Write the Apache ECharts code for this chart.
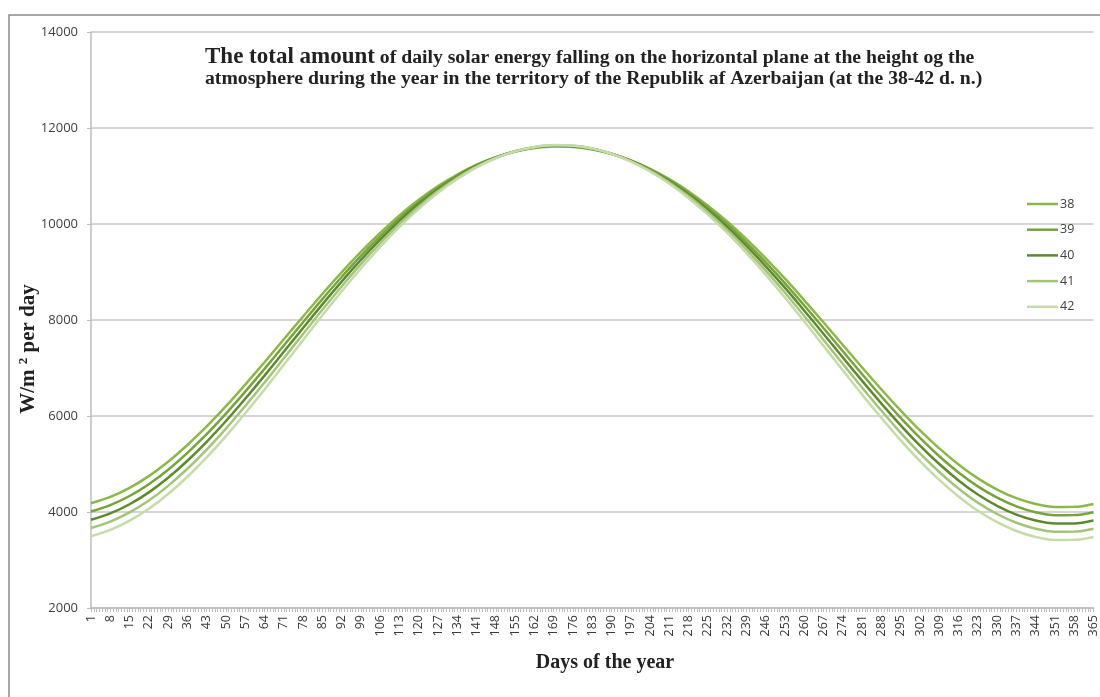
<!DOCTYPE html>
<html>
<head>
<meta charset="utf-8">
<script src="https://cdn.jsdelivr.net/npm/echarts@6/dist/echarts.min.js"></script>
<style>
  html, body { margin: 0; padding: 0; background: #fff; }
  #main { width: 1100px; height: 697px; }
</style>
</head>
<body>
<div id="main"></div>
<script>
// days shown on the axis (every 7th day)
var sampleDays = [1, 8, 15, 22, 29, 36, 43, 50, 57, 64, 71, 78, 85, 92, 99, 106, 113, 120, 127, 134,
  141, 148, 155, 162, 169, 176, 183, 190, 197, 204, 211, 218, 225, 232, 239, 246, 253, 260, 267, 274,
  281, 288, 295, 302, 309, 316, 323, 330, 337, 344, 351, 358, 365];

// values at those days, W/m2 per day
var lat38 = [4183, 4314, 4503, 4748, 5047, 5396, 5782, 6204, 6655, 7120, 7598, 8074, 8542, 8992, 9418, 9813, 10179, 10503, 10789, 11031,
  11235, 11391, 11508, 11582, 11614, 11604, 11552, 11459, 11325, 11151, 10934, 10679, 10383, 10053, 9683, 9284, 8860, 8410, 7948, 7478,
  7010, 6552, 6114, 5701, 5325, 4990, 4701, 4468, 4288, 4167, 4106, 4107, 4168];
var lat39 = [4011, 4143, 4333, 4579, 4880, 5232, 5622, 6050, 6507, 6981, 7468, 7954, 8434, 8896, 9335, 9744, 10122, 10459, 10757, 11010,
  11224, 11389, 11512, 11590, 11624, 11614, 11560, 11462, 11322, 11140, 10913, 10647, 10339, 9996, 9613, 9201, 8764, 8302, 7829, 7348,
  6871, 6406, 5960, 5542, 5162, 4824, 4533, 4298, 4117, 3995, 3934, 3935, 3996];
var lat40 = [3839, 3971, 4162, 4409, 4713, 5067, 5462, 5895, 6359, 6841, 7337, 7834, 8325, 8800, 9252, 9674, 10065, 10415, 10725, 10989,
  11213, 11386, 11515, 11597, 11634, 11623, 11567, 11465, 11318, 11128, 10891, 10614, 10294, 9938, 9543, 9118, 8668, 8194, 7709, 7218,
  6732, 6259, 5806, 5383, 4999, 4658, 4364, 4128, 3946, 3823, 3762, 3763, 3824];
var lat41 = [3668, 3800, 3991, 4239, 4545, 4901, 5300, 5738, 6208, 6697, 7202, 7709, 8212, 8698, 9163, 9599, 10003, 10366, 10688, 10963,
  11197, 11378, 11514, 11601, 11639, 11628, 11570, 11464, 11310, 11111, 10865, 10576, 10245, 9876, 9468, 9030, 8567, 8081, 7585, 7084,
  6589, 6109, 5650, 5222, 4834, 4491, 4195, 3958, 3776, 3652, 3591, 3592, 3653];
var lat42 = [3496, 3628, 3820, 4068, 4376, 4735, 5137, 5580, 6057, 6553, 7066, 7584, 8098, 8596, 9074, 9523, 9940, 10316, 10650, 10937,
  11181, 11370, 11513, 11604, 11644, 11633, 11573, 11462, 11301, 11094, 10838, 10538, 10195, 9813, 9392, 8941, 8466, 7968, 7461, 6950,
  6446, 5958, 5493, 5061, 4669, 4323, 4025, 3787, 3605, 3481, 3419, 3420, 3481];

var seriesNames = ['38', '39', '40', '41', '42'];
var seriesValues = [lat38, lat39, lat40, lat41, lat42];
var seriesColors = ['#8cb84a', '#77a33c', '#5e8a2e', '#a3c57a', '#c6dbaa'];

// every day of the year is a category
var days = [];
for (var d = 1; d <= 365; d++) days.push(String(d));

// plain line legend marker (thin bar centred in a 31x14 box)
var lineIcon = 'path://M0,0 M0,5.75 L31,5.75 L31,8.25 L0,8.25 Z M31,14';

var myChart = echarts.init(document.getElementById('main'));

var series = seriesNames.map(function (name, k) {
  return {
    name: name,
    type: 'line',
    smooth: 0.3,
    symbol: 'none',
    lineStyle: { width: 2.5, color: seriesColors[k] },
    itemStyle: { color: seriesColors[k] },
    data: sampleDays.map(function (day, i) { return [day - 1, seriesValues[k][i]]; })
  };
});

var option = {
  animation: false,
  backgroundColor: '#fff',
  title: {
    left: 205,
    top: 47,
    padding: 0,
    text: '{a|The total amount}{b| of daily solar energy falling on the horizontal plane at the height og the}\n' +
          '{b|atmosphere during the year in the territory of the Republik af Azerbaijan (at the 38-42 d. n.)}',
    textStyle: {
      rich: {
        a: { fontFamily: 'Liberation Serif', fontWeight: 'bold', fontSize: 23, color: '#222', lineHeight: 21 },
        b: { fontFamily: 'Liberation Serif', fontWeight: 'bold', fontSize: 19.7, color: '#222', lineHeight: 21 }
      }
    }
  },
  legend: {
    orient: 'vertical',
    left: 1027,
    top: 197,
    padding: 0,
    itemWidth: 31,
    itemHeight: 14,
    itemGap: 11.7,
    icon: lineIcon,
    data: seriesNames,
    textStyle: { fontFamily: 'Open Sans', fontSize: 12.5, color: '#404040', padding: [0, 0, 0, -3] }
  },
  grid: { left: 91, right: 3, top: 32, bottom: 89 },
  xAxis: {
    type: 'category',
    boundaryGap: false,
    data: days,
    axisLine: { lineStyle: { color: '#bdbdbd', width: 1.5 } },
    axisTick: { interval: 0, length: 4, lineStyle: { color: '#bdbdbd' } },
    axisLabel: {
      interval: 6,
      rotate: 90,
      margin: 7,
      fontFamily: 'Open Sans',
      fontSize: 12.5,
      color: '#3a3a3a'
    },
    splitLine: { show: false }
  },
  yAxis: {
    type: 'value',
    min: 2000,
    max: 14000,
    interval: 2000,
    axisLine: { show: true, lineStyle: { color: '#bdbdbd', width: 1.5 } },
    axisTick: { show: true, length: 4, lineStyle: { color: '#bdbdbd' } },
    axisLabel: {
      margin: 13,
      fontFamily: 'Open Sans',
      fontSize: 13,
      color: '#404040',
      formatter: function (v) { return String(v); }
    },
    splitLine: { lineStyle: { color: '#c8c8c8', width: 1.5 } }
  },
  graphic: [
    {
      type: 'rect',
      silent: true,
      shape: { x: 9, y: 15, width: 1110, height: 700 },
      style: { fill: 'none', stroke: '#8a8a8a', lineWidth: 1.5 }
    },
    {
      type: 'text',
      silent: true,
      x: 29,
      y: 349,
      rotation: Math.PI / 2,
      style: {
        text: '{n|W/m }{s|2}{n| per day}',
        align: 'center',
        verticalAlign: 'middle',
        rich: {
          n: { fontFamily: 'Liberation Serif', fontWeight: 'bold', fontSize: 21, fill: '#222', lineHeight: 24 },
          s: { fontFamily: 'Liberation Serif', fontWeight: 'bold', fontSize: 13, fill: '#222', verticalAlign: 'top', lineHeight: 24 }
        }
      }
    },
    {
      type: 'text',
      silent: true,
      x: 605,
      y: 663,
      style: {
        text: 'Days of the year',
        align: 'center',
        verticalAlign: 'middle',
        fontFamily: 'Liberation Serif',
        fontWeight: 'bold',
        fontSize: 20,
        fill: '#222'
      }
    }
  ],
  series: series
};

myChart.setOption(option);
</script>
</body>
</html>
